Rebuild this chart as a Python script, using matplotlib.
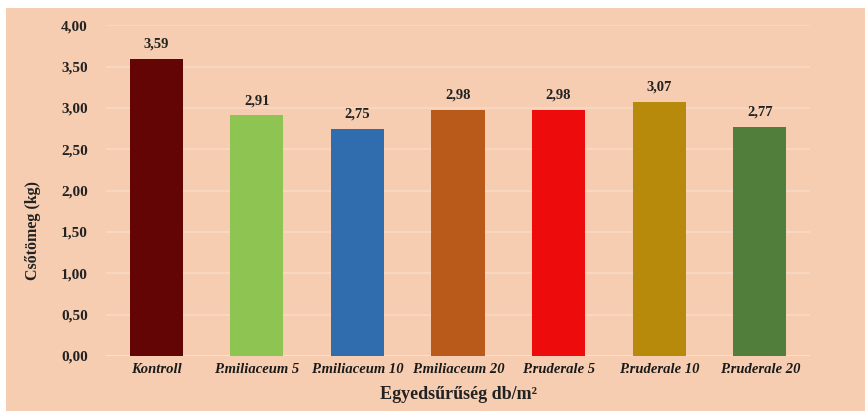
import matplotlib
matplotlib.use("Agg")
import matplotlib.pyplot as plt
from matplotlib.patches import Rectangle

# data
categories = ["Kontroll", "P.miliaceum 5", "P.miliaceum 10", "P.miliaceum 20",
              "P.ruderale 5", "P.ruderale 10", "P.ruderale 20"]
values = [3.59, 2.91, 2.75, 2.98, 2.98, 3.07, 2.77]
bar_colors = ["#640505", "#8DC452", "#2F6DAE", "#B95A1B", "#EE0B0B", "#B88A0C", "#517F3B"]
yticks = [0, 0.5, 1.0, 1.5, 2.0, 2.5, 3.0, 3.5, 4.0]

bg = "#F6CDB1"
serif = "Liberation Serif"
plt.rcParams["font.family"] = serif

fig = plt.figure(figsize=(8.65, 4.11), dpi=100)
fig.patch.set_facecolor("white")
fig.patches.append(Rectangle((6 / 865, 0), 1, 1 - 8 / 411, transform=fig.transFigure,
                             facecolor=bg, edgecolor="none", zorder=-10))

ax = fig.add_axes([0.1225, 0.1338, 0.814, 0.805])
ax.set_facecolor(bg)

x = range(len(categories))
bars = ax.bar(x, values, width=0.53, color=bar_colors, zorder=3)

for xi, v in zip(x, values):
    ax.text(xi, v + 0.1, f"{v:.2f}".replace(".", ","), ha="center", va="bottom",
            fontsize=10.5, fontweight="bold", color="#222222")

ax.set_ylim(0, 4)
ax.set_xlim(-0.5, len(categories) - 0.5)
ax.set_yticks(yticks)
ax.set_yticklabels([f"{t:.2f}".replace(".", ",") for t in yticks],
                   fontsize=11, fontweight="bold", color="#222222")
ax.set_xticks(list(x))
ax.set_xticklabels(categories, fontsize=10.5, fontweight="bold", fontstyle="italic",
                   color="#1a1a1a")
ax.tick_params(axis="both", length=0)
ax.tick_params(axis="y", pad=13)
ax.tick_params(axis="x", pad=5)

ax.yaxis.grid(True, color="#F9D9C3", linewidth=1.2, zorder=0)
ax.set_axisbelow(True)
for s in ax.spines.values():
    s.set_visible(False)
ax.axhline(0, color="#FBE2D0", linewidth=1.2, zorder=2)

ax.set_xlabel("Egyedsűrűség db/m²", fontsize=13, fontweight="bold", color="#222222",
              labelpad=7)
ax.set_ylabel("Csőtömeg (kg)", fontsize=11.5, fontweight="bold", color="#222222")
ax.yaxis.set_label_coords(-0.092, 0.38)

fig.savefig("out.png", dpi=100, facecolor=fig.get_facecolor())
